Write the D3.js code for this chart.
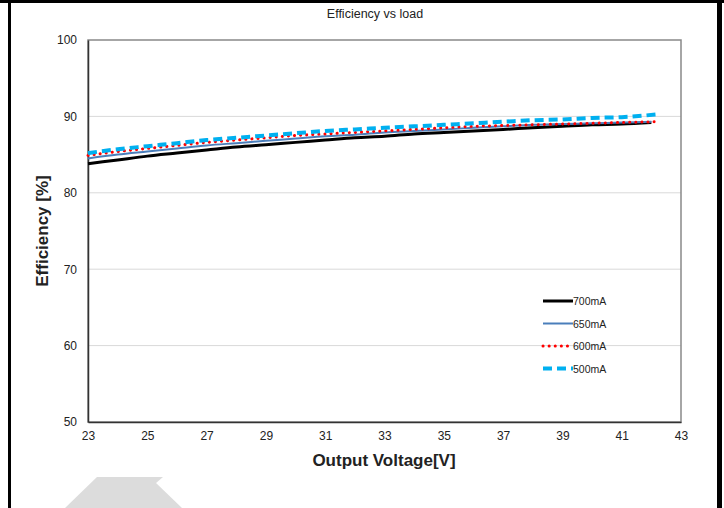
<!DOCTYPE html>
<html>
<head>
<meta charset="utf-8">
<script src="https://cdn.jsdelivr.net/npm/d3@7"></script>
<style>
  body { margin: 0; background: #fff; }
  svg { display: block; font-family: "Liberation Sans", Arial, sans-serif; }
</style>
</head>
<body>
<script>
// data
const volts = [23, 24, 25, 26, 27, 28, 29, 30, 31, 32, 33, 34, 35, 36, 37, 38, 39, 40, 41, 42];
const eff700 = [83.8, 84.3, 84.8, 85.2, 85.6, 86.0, 86.3, 86.6, 86.9, 87.2, 87.4, 87.7, 87.9, 88.1, 88.3, 88.5, 88.7, 88.9, 89.0, 89.2];
const eff650 = [84.5, 85.0, 85.4, 85.8, 86.2, 86.5, 86.8, 87.1, 87.4, 87.6, 87.9, 88.1, 88.3, 88.5, 88.7, 88.9, 89.0, 89.1, 89.2, 89.3];
const volts600 = [23, 24, 25, 26, 27, 28, 29, 30, 31, 32, 33, 34, 35, 36, 37, 38, 39, 40, 41, 42.2];
const eff600 = [84.9, 85.4, 85.8, 86.2, 86.6, 86.9, 87.2, 87.5, 87.7, 87.9, 88.1, 88.3, 88.5, 88.7, 88.8, 88.9, 89.0, 89.1, 89.2, 89.3];
const volts500 = [23, 24, 25, 26, 27, 28, 29, 30, 31, 32, 33, 34, 35, 36, 37, 38, 39, 40, 41, 42.3];
const eff500 = [85.2, 85.7, 86.1, 86.5, 86.9, 87.2, 87.5, 87.8, 88.1, 88.3, 88.5, 88.7, 88.9, 89.1, 89.3, 89.5, 89.6, 89.8, 89.9, 90.3];
const xTicks = [23, 25, 27, 29, 31, 33, 35, 37, 39, 41, 43];
const yTicks = [50, 60, 70, 80, 90, 100];

// series styling
const series = [
  { name: '700mA', x: volts, y: eff700, color: '#000000', width: 3, dash: null, cap: 'butt' },
  { name: '650mA', x: volts, y: eff650, color: '#4a7ebb', width: 2, dash: null, cap: 'butt' },
  { name: '600mA', x: volts600, y: eff600, color: '#ff0000', width: 3, dash: '0.1,6', cap: 'round' },
  { name: '500mA', x: volts500, y: eff500, color: '#00b0f0', width: 4, dash: '9,5', cap: 'butt' }
];

const width = 724;
const height = 508;
const margin = { top: 40, right: 43, bottom: 86, left: 88 };

const svg = d3.select('body')
  .append('svg')
  .attr('width', width)
  .attr('height', height);

// outer black frame (cut off at bottom)
svg.append('rect').attr('x', 0).attr('y', 0).attr('width', width).attr('height', 3).attr('fill', '#000');
svg.append('rect').attr('x', 8).attr('y', 0).attr('width', 3).attr('height', height).attr('fill', '#000');
svg.append('rect').attr('x', 717).attr('y', 0).attr('width', 5).attr('height', height).attr('fill', '#000');

// faint gray shape at the bottom
svg.append('polygon')
  .attr('points', '97,477 163,477 156,483 182,508 65,508')
  .attr('fill', '#dcdcdc');

const xScale = d3.scaleLinear()
  .domain([23, 43])
  .range([margin.left, width - margin.right]);

const yScale = d3.scaleLinear()
  .domain([50, 100])
  .range([height - margin.bottom, margin.top]);

// gridlines
svg.append('g')
  .selectAll('line')
  .data(yTicks.slice(1, -1))
  .join('line')
  .attr('x1', xScale(23))
  .attr('x2', xScale(43))
  .attr('y1', d => yScale(d))
  .attr('y2', d => yScale(d))
  .attr('stroke', '#d9d9d9')
  .attr('stroke-width', 1);

// plot border
svg.append('rect')
  .attr('x', xScale(23))
  .attr('y', yScale(100))
  .attr('width', xScale(43) - xScale(23))
  .attr('height', yScale(50) - yScale(100))
  .attr('fill', 'none')
  .attr('stroke', '#898989')
  .attr('stroke-width', 1.5);

// Y axis
const yAxis = d3.axisLeft(yScale).tickValues(yTicks).tickSize(0).tickPadding(11);
svg.append('g')
  .attr('transform', `translate(${xScale(23)},0)`)
  .call(yAxis)
  .call(g => g.select('.domain').attr('stroke', '#333').attr('stroke-width', 1.5))
  .selectAll('text')
  .attr('font-size', 12)
  .attr('fill', '#222');

// X axis
const xAxis = d3.axisBottom(xScale).tickValues(xTicks).tickSize(0).tickPadding(9);
svg.append('g')
  .attr('transform', `translate(0,${yScale(50)})`)
  .call(xAxis)
  .call(g => g.select('.domain').attr('stroke', '#333').attr('stroke-width', 1.5))
  .selectAll('text')
  .attr('font-size', 12)
  .attr('fill', '#222');

// lines
const line = d3.line()
  .x(d => xScale(d[0]))
  .y(d => yScale(d[1]))
  .curve(d3.curveMonotoneX);

svg.append('g')
  .selectAll('path')
  .data(series)
  .join('path')
  .attr('d', s => line(s.x.map((v, i) => [v, s.y[i]])))
  .attr('fill', 'none')
  .attr('stroke', s => s.color)
  .attr('stroke-width', s => s.width)
  .attr('stroke-dasharray', s => s.dash)
  .attr('stroke-linecap', s => s.cap);

// legend
const legend = svg.append('g')
  .selectAll('g')
  .data(series)
  .join('g')
  .attr('transform', (d, i) => `translate(543,${301 + i * 22.5})`);

legend.append('line')
  .attr('x1', 0)
  .attr('x2', 30)
  .attr('stroke', s => s.color)
  .attr('stroke-width', s => s.width)
  .attr('stroke-dasharray', s => s.dash)
  .attr('stroke-linecap', s => s.cap);

legend.append('text')
  .attr('x', 30)
  .attr('y', 4)
  .attr('font-size', 10.5)
  .attr('fill', '#222')
  .text(s => s.name);

// titles
svg.append('text')
  .attr('x', 375)
  .attr('y', 18)
  .attr('text-anchor', 'middle')
  .attr('font-size', 12.5)
  .attr('fill', '#222')
  .text('Efficiency vs load');

svg.append('text')
  .attr('x', 384)
  .attr('y', 466)
  .attr('text-anchor', 'middle')
  .attr('font-size', 17)
  .attr('font-weight', 'bold')
  .attr('fill', '#222')
  .text('Output Voltage[V]');

svg.append('text')
  .attr('transform', `translate(48,${(yScale(50) + yScale(100)) / 2}) rotate(-90)`)
  .attr('text-anchor', 'middle')
  .attr('font-size', 17)
  .attr('font-weight', 'bold')
  .attr('fill', '#222')
  .text('Efficiency [%]');
</script>
</body>
</html>
